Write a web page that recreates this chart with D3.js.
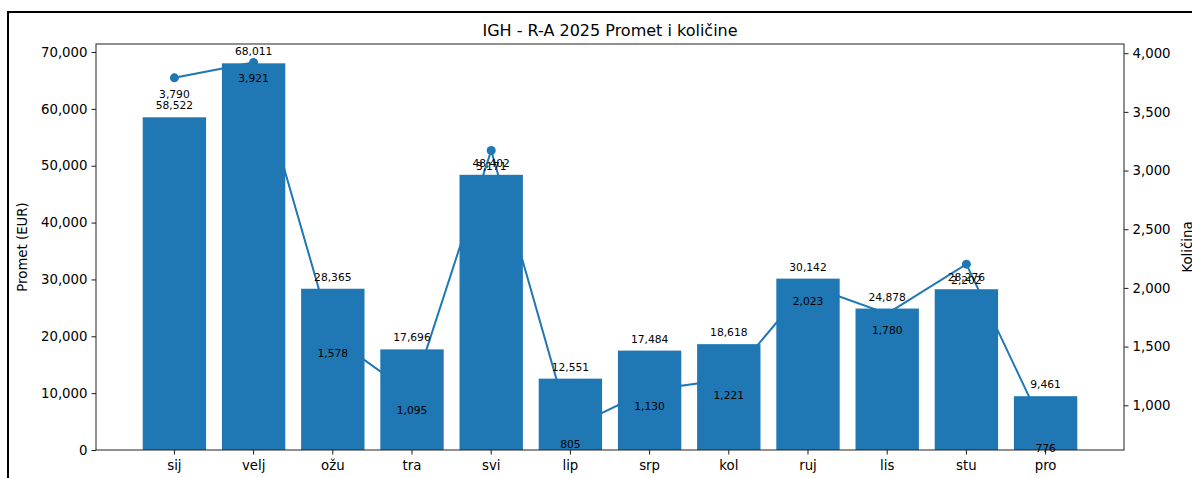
<!DOCTYPE html>
<html><head><meta charset="utf-8">
<script src="https://cdn.jsdelivr.net/npm/d3@7"></script>
<style>
html,body{margin:0;padding:0;background:#fff;}
svg{display:block;font-family:"DejaVu Sans",sans-serif;}
</style></head>
<body>
<svg id="c" width="1192" height="478"></svg>
<script>
const months = ["sij","velj","ožu","tra","svi","lip","srp","kol","ruj","lis","stu","pro"];
const promet = [58522,68011,28365,17696,48402,12551,17484,18618,30142,24878,28276,9461];
const kolicina = [3790,3921,1578,1095,3171,805,1130,1221,2023,1780,2202,776];
const leftTicks = [0,10000,20000,30000,40000,50000,60000,70000];
const rightTicks = [1000,1500,2000,2500,3000,3500,4000];
const title = "IGH - R-A 2025 Promet i količine";
const leftLabel = "Promet (EUR)";
const rightLabel = "Količina";

const svg = d3.select("#c");
const L=96, R=1124, T=44, B=450;
const color = "#1f77b4";
const fmt = d3.format(",");

// figure frame
svg.append("rect").attr("x",8).attr("y",12).attr("width",1200).attr("height",500)
  .attr("fill","none").attr("stroke","#000").attr("stroke-width",2);

const x = d3.scaleBand().domain(months).range([L,R]).paddingInner(0.2).paddingOuter(0.59);
const pMax = d3.max(promet);
const y1 = d3.scaleLinear().domain([0, pMax*1.05]).range([B,T]);
const kMin = d3.min(kolicina), kMax = d3.max(kolicina), kr = kMax-kMin;
const y2 = d3.scaleLinear().domain([kMin-0.05*kr, kMax+0.05*kr]).range([B,T]);
const cx = d => x(d) + x.bandwidth()/2;

// line (behind bars)
const line = d3.line().x((d,i)=>cx(months[i])).y(d=>y2(d));
svg.append("path").datum(kolicina).attr("d",line).attr("fill","none")
  .attr("stroke",color).attr("stroke-width",2);
svg.selectAll("circle.m").data(kolicina).join("circle").attr("class","m")
  .attr("cx",(d,i)=>cx(months[i])).attr("cy",d=>y2(d)).attr("r",4.5).attr("fill",color);

// bars
svg.selectAll("rect.bar").data(promet).join("rect").attr("class","bar")
  .attr("x",(d,i)=>x(months[i])).attr("width",x.bandwidth())
  .attr("y",d=>y1(d)).attr("height",d=>B-y1(d)).attr("fill",color);

// axes
const ax1 = svg.append("g").attr("transform",`translate(${L},0)`)
  .call(d3.axisLeft(y1).tickValues(leftTicks).tickFormat(fmt).tickSizeOuter(0).tickSize(4.5).tickPadding(4));
const ax2 = svg.append("g").attr("transform",`translate(${R},0)`)
  .call(d3.axisRight(y2).tickValues(rightTicks).tickFormat(fmt).tickSizeOuter(0).tickSize(4.5).tickPadding(4));
const axb = svg.append("g").attr("transform",`translate(0,${B})`)
  .call(d3.axisBottom(x).tickSizeOuter(0).tickSize(4.5).tickPadding(4));
[ax1,ax2,axb].forEach(g=>{
  g.select(".domain").remove();
  g.selectAll("text").attr("font-size","13.3px").attr("font-family","DejaVu Sans").attr("fill","#000");
  g.selectAll("line").attr("stroke","#000").attr("stroke-width",0.9);
});
axb.selectAll("text").attr("dy","0.9em");

// spines
svg.append("rect").attr("x",L).attr("y",T).attr("width",R-L).attr("height",B-T)
  .attr("fill","none").attr("stroke","#222").attr("stroke-width",1);

// bar labels
svg.selectAll("text.bl").data(promet).join("text").attr("class","bl")
  .attr("x",(d,i)=>cx(months[i])).attr("y",d=>y1(d)-8)
  .attr("text-anchor","middle").attr("font-size","10.7px").attr("fill","#000")
  .text(d=>fmt(d));
// line labels
svg.selectAll("text.ll").data(kolicina).join("text").attr("class","ll")
  .attr("x",(d,i)=>cx(months[i])).attr("y",d=>y2(d)+20)
  .attr("text-anchor","middle").attr("font-size","10.7px").attr("fill","#000")
  .text(d=>fmt(d));

// title and labels
svg.append("text").attr("x",(L+R)/2).attr("y",36).attr("text-anchor","middle")
  .attr("font-size","16px").attr("fill","#000").text(title);
svg.append("text").attr("transform",`translate(27,${(T+B)/2}) rotate(-90)`)
  .attr("text-anchor","middle").attr("font-size","13.3px").attr("fill","#000").text(leftLabel);
svg.append("text").attr("transform",`translate(1192,${(T+B)/2}) rotate(-90)`)
  .attr("text-anchor","middle").attr("font-size","13.3px").attr("fill","#000").text(rightLabel);
</script>
</body></html>
